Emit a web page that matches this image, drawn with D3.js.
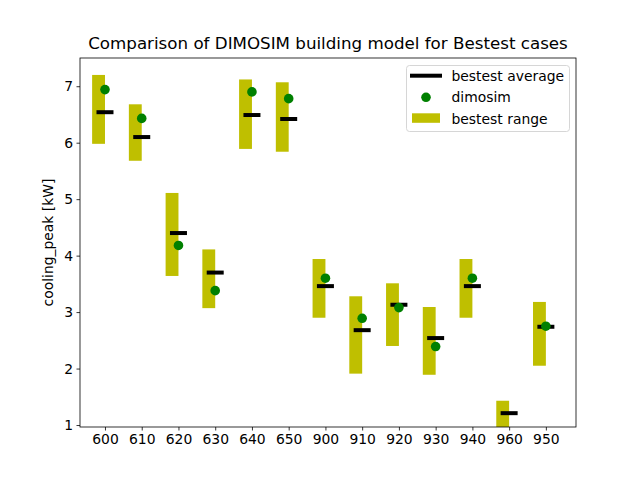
<!DOCTYPE html>
<html><head><meta charset="utf-8">
<script src="https://cdn.jsdelivr.net/npm/d3@7"></script>
<style>body{margin:0;background:#fff}svg{display:block}text{font-family:"DejaVu Sans",sans-serif;fill:#000}</style>
</head><body><svg id="c" width="640" height="480"></svg>
<script>
const cases = ["600","610","620","630","640","650","900","910","920","930","940","960","950"];
const bestestMin = [5.98,5.68,3.64,3.07,5.89,5.84,2.90,1.91,2.40,1.89,2.90,0.90,2.05];
const bestestMax = [7.20,6.68,5.11,4.11,7.12,7.07,3.94,3.28,3.51,3.09,3.94,1.43,3.18];
const bestestAvg = [6.54,6.10,4.40,3.70,6.49,6.42,3.46,2.68,3.13,2.54,3.46,1.21,2.74];
const dimosim    = [6.94,6.43,4.18,3.38,6.90,6.78,3.60,2.89,3.08,2.39,3.60,null,2.75];
const yTicks = [1,2,3,4,5,6,7];

const svg = d3.select("#c");
const L=80,R=576,T=58,B=427;
const x = d3.scaleLinear().domain([-0.68,12.82]).range([L,R]);
const y = d3.scaleLinear().domain([0.965,7.5]).range([B,T]);

svg.append("defs").append("clipPath").attr("id","clip").append("rect")
  .attr("x",L).attr("y",T).attr("width",R-L).attr("height",B-T);
const g = svg.append("g").attr("clip-path","url(#clip)");

g.selectAll("rect.bar").data(cases).enter().append("rect")
  .attr("x",(d,i)=>x(i-0.35)).attr("width",x(0.35)-x(0))
  .attr("y",(d,i)=>y(bestestMax[i])).attr("height",(d,i)=>y(bestestMin[i])-y(bestestMax[i]))
  .attr("fill","#bfbf00");
g.selectAll("line.avg").data(cases).enter().append("line")
  .attr("x1",(d,i)=>x(i)-8.5).attr("x2",(d,i)=>x(i)+8.5)
  .attr("y1",(d,i)=>y(bestestAvg[i])).attr("y2",(d,i)=>y(bestestAvg[i]))
  .attr("stroke","#000").attr("stroke-width",4);
g.selectAll("circle").data(cases.map((c,i)=>i).filter(i=>dimosim[i]!=null)).enter().append("circle")
  .attr("cx",i=>x(i)).attr("cy",i=>y(dimosim[i])).attr("r",4.8).attr("fill","#008000");

const xa = svg.append("g").attr("transform",`translate(0,${B})`)
  .call(d3.axisBottom(x).tickValues(d3.range(cases.length)).tickFormat(i=>cases[i]).tickSize(3.5).tickPadding(3.5));
const ya = svg.append("g").attr("transform",`translate(${L},0)`)
  .call(d3.axisLeft(y).tickValues(yTicks).tickFormat(d3.format("d")).tickSize(3.5).tickPadding(3.5));
[xa,ya].forEach(a=>{a.select(".domain").remove();a.selectAll("text").style("font-size","13.9px").attr("font-family","DejaVu Sans");a.selectAll("line").attr("stroke","#000").attr("stroke-width",0.8);});
svg.append("rect").attr("x",L).attr("y",T).attr("width",R-L).attr("height",B-T)
  .attr("fill","none").attr("stroke","#000").attr("stroke-width",0.8);

svg.append("text").attr("x",(L+R)/2).attr("y",49).attr("text-anchor","middle")
  .style("font-size","16.7px").text("Comparison of DIMOSIM building model for Bestest cases");
svg.append("text").attr("transform",`translate(53,${(T+B)/2}) rotate(-90)`).attr("text-anchor","middle")
  .style("font-size","13.9px").text("cooling_peak [kW]");

const lg = svg.append("g");
lg.append("rect").attr("x",406.5).attr("y",65.5).attr("width",163).attr("height",66).attr("rx",3)
  .attr("fill","#fff").attr("fill-opacity",0.8).attr("stroke","#ccc").attr("stroke-width",0.8);
lg.append("line").attr("x1",410).attr("x2",442).attr("y1",75.7).attr("y2",75.7).attr("stroke","#000").attr("stroke-width",4);
lg.append("circle").attr("cx",426).attr("cy",97.3).attr("r",4.8).attr("fill","#008000");
lg.append("rect").attr("x",412).attr("y",113.3).attr("width",28).attr("height",9.5).attr("fill","#bfbf00");
const labels=["bestest average","dimosim","bestest range"];
labels.forEach((t,i)=>lg.append("text").attr("x",451.5).attr("y",80.5+i*21.5).style("font-size","13.9px").text(t));
</script></body></html>
